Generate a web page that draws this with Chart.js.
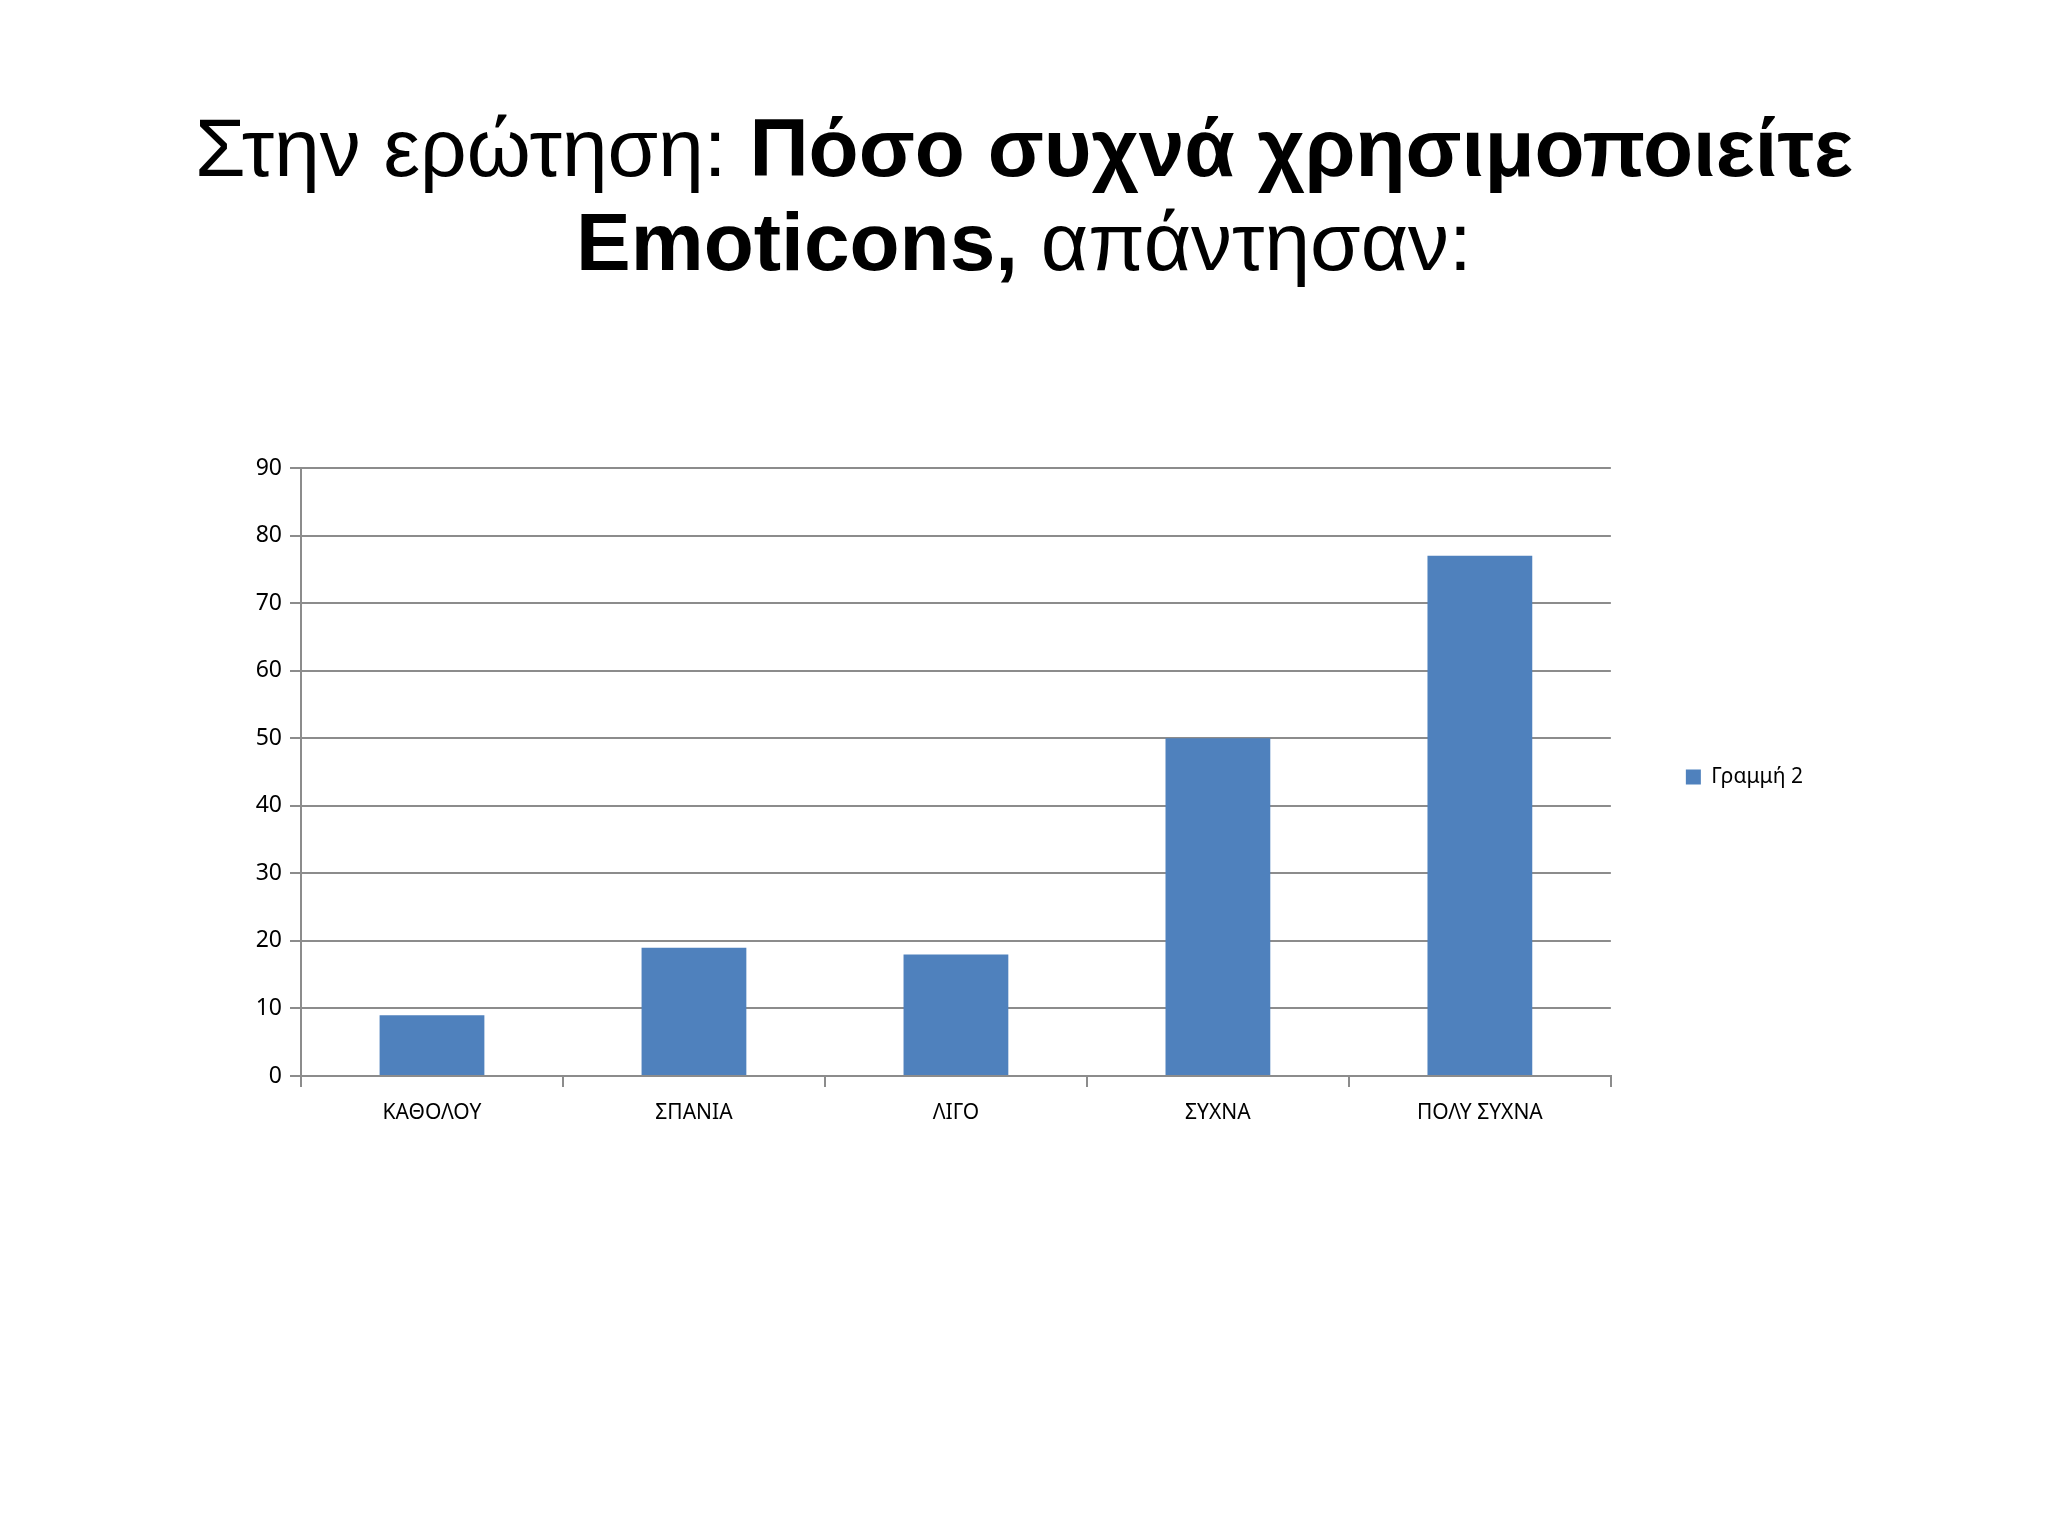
<!DOCTYPE html>
<html>
<head>
<meta charset="utf-8">
<script src="https://cdn.jsdelivr.net/npm/chart.js@4.4.0/dist/chart.umd.min.js"></script>
<style>
  html, body { margin: 0; padding: 0; background: #fff; }
  body { width: 2048px; height: 1535px; position: relative; overflow: hidden; }
  #title {
    position: absolute; left: 0; top: 101px; width: 2048px;
    text-align: center; font-family: "Liberation Sans", Arial, sans-serif;
    font-size: 82px; line-height: 94px; color: #000;
  }
  #title b { font-weight: bold; }
  #wrap { position: absolute; left: 0; top: 0; width: 2048px; height: 1535px; }
</style>
</head>
<body>
<div id="title">Στην ερώτηση: <b>Πόσο συχνά χρησιμοποιείτε<br>Emoticons,</b> απάντησαν:</div>
<div id="wrap"><canvas id="chart" width="2048" height="1535"></canvas></div>
<script>
// data
const categories = ["ΚΑΘΟΛΟΥ", "ΣΠΑΝΙΑ", "ΛΙΓΟ", "ΣΥΧΝΑ", "ΠΟΛΥ ΣΥΧΝΑ"];
const seriesName = "Γραμμή 2";
const values = [9, 19, 18, 50, 77];
const yMin = 0, yMax = 90, yStep = 10;

const axisGray = "#8c8c8c";
Chart.defaults.font.family = "'Noto Sans', 'Open Sans', sans-serif";
Chart.defaults.color = "#000";

// legend sits roughly centred on the plot area, not on plot + x labels
const legendShift = {
  id: 'legendShift',
  beforeDraw(chart) {
    const lg = chart.legend;
    if (!lg) return;
    const dy = (lg.bottom - chart.chartArea.bottom) / 2 - 5;
    lg.top -= dy;
    lg.bottom -= dy;
  }
};

const ctx = document.getElementById("chart").getContext("2d");

let emoChart = new Chart(ctx, {
  type: 'bar',
  data: {
    labels: categories,
    datasets: [{
      label: seriesName,
      data: values,
      backgroundColor: "#4f81bd",
      borderWidth: 0,
      barPercentage: 0.4,
      categoryPercentage: 1.0
    }]
  },
  options: {
    responsive: false,
    animation: false,
    layout: {
      padding: { left: 231, top: 468, right: 235, bottom: 409 }
    },
    plugins: {
      title: { display: false },
      tooltip: { enabled: false },
      legend: {
        position: 'right',
        align: 'center',
        labels: {
          boxWidth: 15,
          boxHeight: 15,
          padding: 75,
          font: { size: 21 },
          color: "#000"
        }
      }
    },
    scales: {
      y: {
        min: yMin,
        max: yMax,
        ticks: {
          stepSize: yStep,
          padding: 8,
          font: { size: 23 },
          color: "#000"
        },
        grid: {
          color: axisGray,
          lineWidth: 2,
          tickLength: 11
        },
        border: { display: true, color: axisGray, width: 2 },
        afterFit: (scale) => { scale.width = 70; }
      },
      x: {
        ticks: {
          padding: 13,
          font: { size: 21 },
          color: "#000",
          maxRotation: 0
        },
        grid: {
          drawOnChartArea: false,
          drawTicks: true,
          tickLength: 11,
          color: axisGray,
          lineWidth: 2
        },
        border: { display: true, color: axisGray, width: 2 },
        afterFit: (scale) => { scale.height = 50; }
      }
    }
  },
  plugins: [legendShift]
});
</script>
</body>
</html>
